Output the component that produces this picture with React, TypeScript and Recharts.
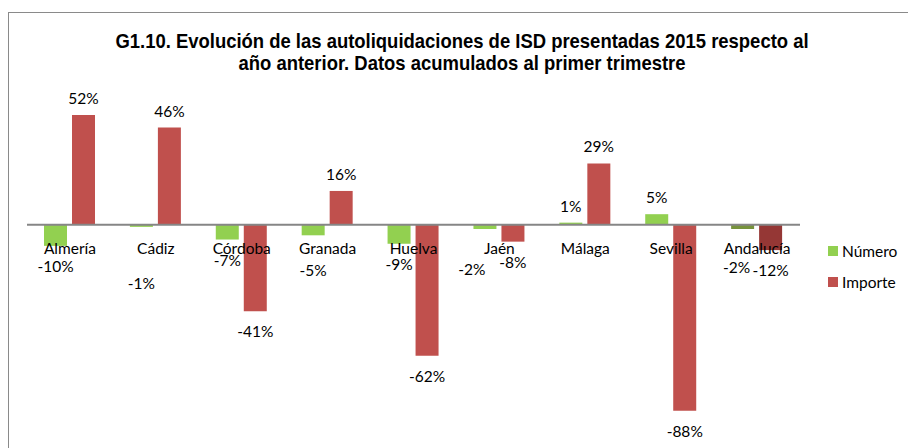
import React from 'react'
import { BarChart, Bar, XAxis, YAxis, ReferenceLine, Cell, LabelList } from 'recharts'

const provincias = ['Almería', 'Cádiz', 'Córdoba', 'Granada', 'Huelva', 'Jaén', 'Málaga', 'Sevilla', 'Andalucía']
const numero = [-10, -1, -7, -5, -9, -2, 1, 5, -2]
const importe = [52, 46, -41, 16, -62, -8, 29, -88, -12]

// nudges for the Número labels that were moved by hand in the original
const numeroLabelDx = [0, 0, 0, 0, 0, -13, 0, 0, -6]
const numeroLabelDy = [0, 36, 0, 15, 0, 20, 0, 0, 18]

const data = provincias.map((p, i) => ({ name: p, numero: numero[i], importe: importe[i] }))

const W = 908
const H = 448
const X_AXIS_H = 12
const MARGIN = { top: 98, right: 108, bottom: 0, left: 27 }
const Y_DOMAIN: [number, number] = [-100, 60]
const plotH = H - MARGIN.top - MARGIN.bottom - X_AXIS_H
const zeroY = MARGIN.top + (plotH * Y_DOMAIN[1]) / (Y_DOMAIN[1] - Y_DOMAIN[0])

const FONT = 'Lato, "Open Sans", sans-serif'
const GREEN = '#92D050'
const RED = '#C0504D'
const GREEN_TOTAL = '#77933C'
const RED_TOTAL = '#953735'

const CategoryTick = (props: any) => {
  const { x, payload } = props
  return (
    <text x={x} y={zeroY + 23} textAnchor="middle" dominantBaseline="central"
      fontFamily={FONT} fontSize={15.5} fill="#000">
      {payload.value}
    </text>
  )
}

const makeLabel = (dxs?: number[], dys?: number[]) => (props: any) => {
  const { x, y, width, height, value, index } = props
  const top = Math.min(y, y + height)
  const bottom = Math.max(y, y + height)
  const endY = value >= 0 ? top - 17 : bottom + 20
  const cx = x + width / 2 + (dxs ? dxs[index] : 0)
  const cy = endY + (dys ? dys[index] : 0)
  return (
    <text x={cx} y={cy} textAnchor="middle" dominantBaseline="central"
      fontFamily={FONT} fontSize={15.5} fill="#000">
      {value}%
    </text>
  )
}

const LegendBox = () => (
  <div style={{ position: 'absolute', left: 828, top: 243, fontFamily: FONT, fontSize: 15.5, color: '#000' }}>
    <div style={{ display: 'flex', alignItems: 'center', height: 16, marginBottom: 15 }}>
      <span style={{ width: 10, height: 10, background: GREEN, marginRight: 4 }} />
      Número
    </div>
    <div style={{ display: 'flex', alignItems: 'center', height: 16 }}>
      <span style={{ width: 10, height: 10, background: RED, marginRight: 4 }} />
      Importe
    </div>
  </div>
)

export default function App() {
  return (
    <div style={{ position: 'absolute', left: 0, top: 0, width: W, height: H, overflow: 'hidden', background: '#fff' }}>
      <div style={{ position: 'absolute', left: 8, top: 12, width: 920, height: 460, border: '1px solid #8a8a8a' }} />
      <div style={{
        position: 'absolute', left: 0, width: 924, top: 30, textAlign: 'center',
        fontFamily: '"Liberation Sans", Arial, sans-serif', fontWeight: 'bold',
        fontSize: 20.5, lineHeight: '22px', color: '#000',
        transform: 'scaleX(0.9)', transformOrigin: '462px 0'
      }}>
        G1.10. Evolución de las autoliquidaciones de ISD presentadas 2015 respecto al<br />
        año anterior. Datos acumulados al primer trimestre
      </div>
      <div style={{ position: 'absolute', left: 0, top: 0 }}>
        <BarChart width={W} height={H} data={data} margin={MARGIN} barSize={23} barGap={5}>
          <XAxis dataKey="name" height={X_AXIS_H} axisLine={false} tickLine={false} tick={<CategoryTick />} interval={0} />
          <YAxis hide domain={Y_DOMAIN} />
          <Bar dataKey="numero" isAnimationActive={false}>
            {data.map((d, i) => (
              <Cell key={`n-${i}`} fill={d.name === 'Andalucía' ? GREEN_TOTAL : GREEN} />
            ))}
            <LabelList dataKey="numero" content={makeLabel(numeroLabelDx, numeroLabelDy)} />
          </Bar>
          <Bar dataKey="importe" isAnimationActive={false}>
            {data.map((d, i) => (
              <Cell key={`i-${i}`} fill={d.name === 'Andalucía' ? RED_TOTAL : RED} />
            ))}
            <LabelList dataKey="importe" content={makeLabel()} />
          </Bar>
          <ReferenceLine y={0} stroke="#868686" strokeWidth={2} />
        </BarChart>
      </div>
      <LegendBox />
    </div>
  )
}
